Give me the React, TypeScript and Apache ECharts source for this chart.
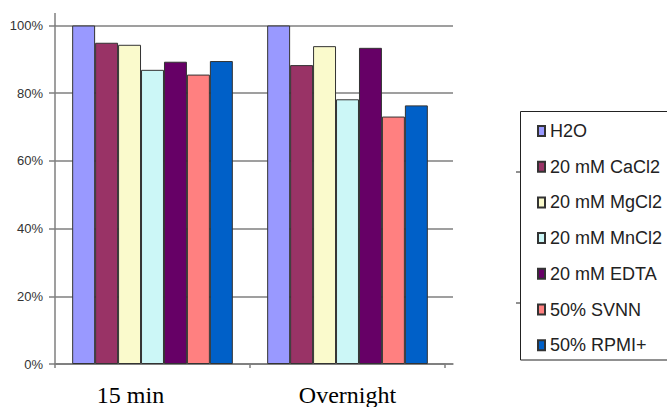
import React, { useEffect, useRef } from "react";
import * as echarts from "echarts";

const categories = ["15 min", "Overnight"];
const seriesNames = [
  "H2O",
  "20 mM CaCl2",
  "20 mM MgCl2",
  "20 mM MnCl2",
  "20 mM EDTA",
  "50% SVNN",
  "50% RPMI+",
];
const h2o = [100, 100];
const cacl2 = [94.9, 88.3];
const mgcl2 = [94.3, 93.9];
const mncl2 = [86.9, 78.2];
const edta = [89.3, 93.4];
const svnn = [85.5, 73.1];
const rpmi = [89.5, 76.4];
const yTicks = [0, 20, 40, 60, 80, 100];
const colors = ["#9999FF", "#993366", "#FAFACC", "#CCF7F7", "#660066", "#FF8080", "#0060C8"];

const seriesValues = [h2o, cacl2, mgcl2, mncl2, edta, svnn, rpmi];

export default function App() {
  const ref = useRef<HTMLDivElement>(null);
  useEffect(() => {
    document.body.style.margin = "0";
    if (!ref.current) return;
    const chart = echarts.init(ref.current, undefined, { renderer: "svg" });
    const gridTop = 25.5;
    const gridBottom = 43;
    const option: any = {
      animation: false,
      backgroundColor: "#ffffff",
      grid: [
        { left: 55, right: 222, top: gridTop, bottom: gridBottom },
        { left: 55, right: 214, top: gridTop, bottom: gridBottom },
      ],
      xAxis: [
        {
          type: "category",
          gridIndex: 0,
          data: categories,
          axisLine: { show: true, lineStyle: { color: "#7f7f7f", width: 1.5 } },
          axisTick: { show: true, length: 4, lineStyle: { color: "#7f7f7f", width: 1.5 } },
          axisLabel: {
            margin: 19,
            color: "#000",
            formatter: (v: string) => (v === categories[0] ? "{a|" + v + "}" : "{b|" + v + "}"),
            rich: {
              a: { fontFamily: "Liberation Serif", fontSize: 24, color: "#000", padding: [0, 44, 0, 0] },
              b: { fontFamily: "Liberation Serif", fontSize: 24, color: "#000" },
            },
          },
          splitLine: { show: false },
        },
        {
          type: "value",
          gridIndex: 1,
          min: 0,
          max: 1,
          axisLine: { show: true, lineStyle: { color: "#7f7f7f", width: 1.5 } },
          axisTick: { show: false },
          axisLabel: { show: false },
          splitLine: { show: false },
        },
      ],
      yAxis: [
        {
          type: "value",
          gridIndex: 0,
          min: 0,
          max: 100,
          interval: 20,
          axisLine: { show: true, lineStyle: { color: "#7f7f7f", width: 1.5 } },
          axisTick: { show: true, length: 6, lineStyle: { color: "#7f7f7f", width: 1.5 } },
          axisLabel: {
            margin: 12,
            color: "#333",
            fontFamily: "Liberation Sans",
            fontSize: 13,
            formatter: (v: number) => (yTicks.includes(v) ? v + "%" : ""),
          },
          splitLine: { show: false },
        },
        {
          type: "value",
          gridIndex: 1,
          min: 0,
          max: 100,
          interval: 20,
          axisLine: { show: false },
          axisTick: { show: false },
          axisLabel: { show: false },
          splitLine: { show: true, lineStyle: { color: "#7f7f7f", width: 1.5 } },
        },
      ],
      legend: {
        orient: "vertical",
        left: 537,
        top: 121,
        padding: 0,
        itemWidth: 7,
        itemHeight: 10,
        itemGap: 15.7,
        icon: "rect",
        data: seriesNames,
        textStyle: {
          fontFamily: "Liberation Sans",
          fontSize: 18,
          lineHeight: 20,
          color: "#222",
        },
      },
      graphic: [
        {
          type: "line",
          shape: { x1: 55, y1: 13, x2: 55, y2: 26 },
          style: { stroke: "#7f7f7f", lineWidth: 1.5 },
        },
        {
          type: "rect",
          shape: { x: 520.5, y: 111.5, width: 220, height: 248.5 },
          style: { fill: "none", stroke: "#222", lineWidth: 1 },
        },
        {
          type: "line",
          shape: { x1: 516, y1: 172, x2: 520, y2: 172 },
          style: { stroke: "#222", lineWidth: 1 },
        },
        {
          type: "line",
          shape: { x1: 516, y1: 303, x2: 520, y2: 303 },
          style: { stroke: "#222", lineWidth: 1 },
        },
      ],
      series: seriesNames.map((name, i) => ({
        name,
        type: "bar",
        xAxisIndex: 0,
        yAxisIndex: 0,
        data: seriesValues[i],
        barGap: "0%",
        barCategoryGap: "17.6%",
        itemStyle: { color: colors[i], borderColor: "#333", borderWidth: 1 },
      })),
    };
    chart.setOption(option);
    return () => chart.dispose();
  }, []);
  return <div ref={ref} style={{ width: 667, height: 407 }} />;
}
